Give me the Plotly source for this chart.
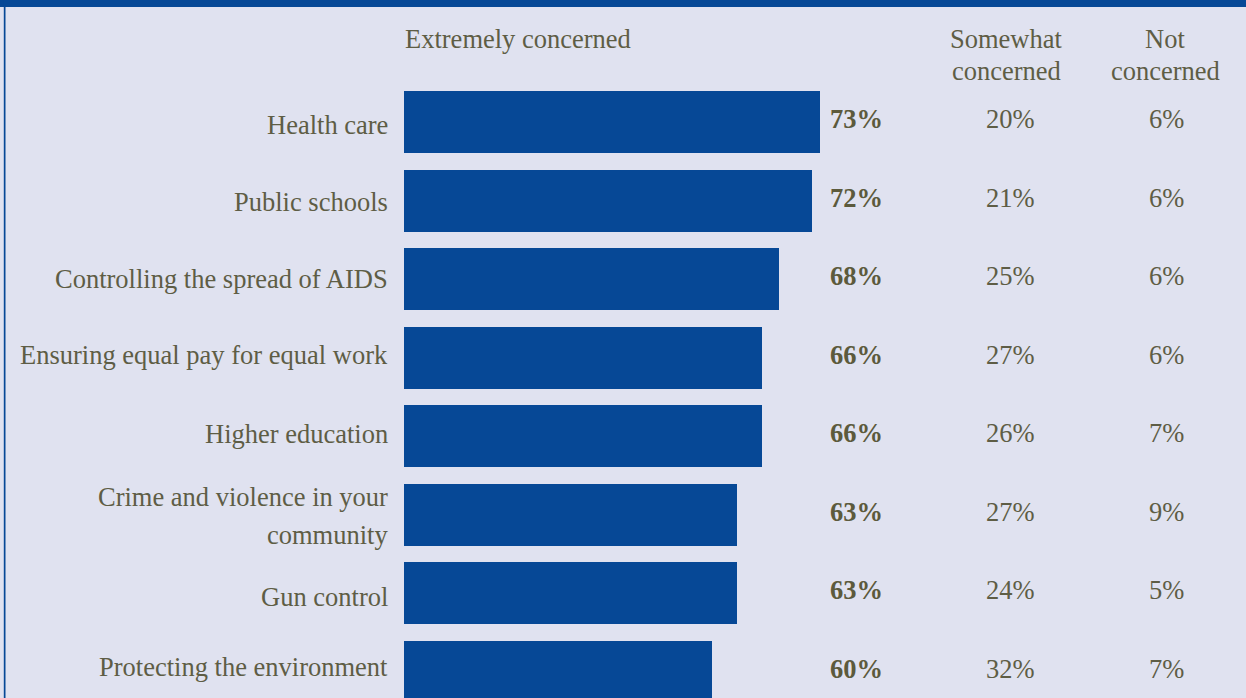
import plotly.graph_objects as go

# ---- data ----
categories = [
    "Health care",
    "Public schools",
    "Controlling the spread of AIDS",
    "Ensuring equal pay for equal work",
    "Higher education",
    "Crime and violence in your\ncommunity",
    "Gun control",
    "Protecting the environment",
]
extremely = [73, 72, 68, 66, 66, 63, 63, 60]
somewhat = [20, 21, 25, 27, 26, 27, 24, 32]
not_concerned = [6, 6, 6, 6, 7, 9, 5, 7]
col_headers = ["Extremely concerned", "Somewhat\nconcerned", "Not\nconcerned"]

# ---- style ----
W, H = 1246, 698
BG = "#e0e2f0"
BLUE = "#064896"
TXT = "#5e5d45"
NUM = "#5c5a3c"
FONT = "Liberation Serif"
FS = 26.5
# small per-row vertical nudges (px, downward) of the row labels
label_nudge = [3, 1.5, 0, -2.5, -2.5, 1, 3.5, -5]

def px(x):
    return x / W

def py(y):
    return 1 - y / H

idx = list(range(len(categories)))

fig = go.Figure()
fig.add_trace(go.Bar(
    x=extremely, y=idx, orientation="h",
    marker=dict(color=BLUE, line=dict(width=0)),
    width=0.79, hoverinfo="skip",
))

ann = []
line_gap = 38
for i, cat in enumerate(categories):
    lines = cat.split("\n")
    n = len(lines)
    for k, ln in enumerate(lines):
        off = (k - (n - 1) / 2) * line_gap
        ann.append(dict(x=px(390), xref="paper", y=i, yref="y", text=ln,
                        xanchor="right", yanchor="middle", showarrow=False,
                        yshift=-off - label_nudge[i],
                        font=dict(family=FONT, size=FS, color=TXT)))
    ann.append(dict(x=px(885), xref="paper", y=i, yref="y", text=f"<b>{extremely[i]}%</b>",
                    xanchor="right", yanchor="middle", showarrow=False, yshift=3,
                    font=dict(family=FONT, size=FS, color=NUM)))
    ann.append(dict(x=px(1010), xref="paper", y=i, yref="y", text=f"{somewhat[i]}%",
                    xanchor="center", yanchor="middle", showarrow=False, yshift=3,
                    font=dict(family=FONT, size=FS, color=TXT)))
    ann.append(dict(x=px(1166), xref="paper", y=i, yref="y", text=f"{not_concerned[i]}%",
                    xanchor="center", yanchor="middle", showarrow=False, yshift=3,
                    font=dict(family=FONT, size=FS, color=TXT)))

# column headers
header_pos = [(403, "left"), (1006, "center"), (1165, "center")]
for (hx, anchor), htxt in zip(header_pos, col_headers):
    for k, ln in enumerate(htxt.split("\n")):
        ann.append(dict(x=px(hx), xref="paper", y=py(39 + 32 * k), yref="paper", text=ln,
                        xanchor=anchor, yanchor="middle", showarrow=False,
                        font=dict(family=FONT, size=FS, color=TXT)))

shapes = [
    dict(type="rect", xref="paper", yref="paper", x0=0, x1=1, y0=py(7), y1=1,
         fillcolor=BLUE, line=dict(width=0), layer="above"),
    dict(type="rect", xref="paper", yref="paper", x0=px(3.8), x1=px(5.5), y0=0, y1=1,
         fillcolor=BLUE, line=dict(width=0), layer="above"),
]

fig.update_layout(
    width=W, height=H,
    margin=dict(l=0, r=0, t=0, b=0),
    paper_bgcolor=BG, plot_bgcolor=BG,
    showlegend=False,
    xaxis=dict(domain=[px(404), 1], range=[22.85, 22.85 + 842 / 8.30],
               visible=False, fixedrange=True),
    yaxis=dict(domain=[0, py(7)], range=[7.331, -1.4637],
               visible=False, fixedrange=True),
    annotations=ann,
    shapes=shapes,
    bargap=0,
)

fig.write_html(
    "out.html",
    config={"displayModeBar": False},
    post_script="document.body.style.margin='0';document.body.style.overflow='hidden';",
)
